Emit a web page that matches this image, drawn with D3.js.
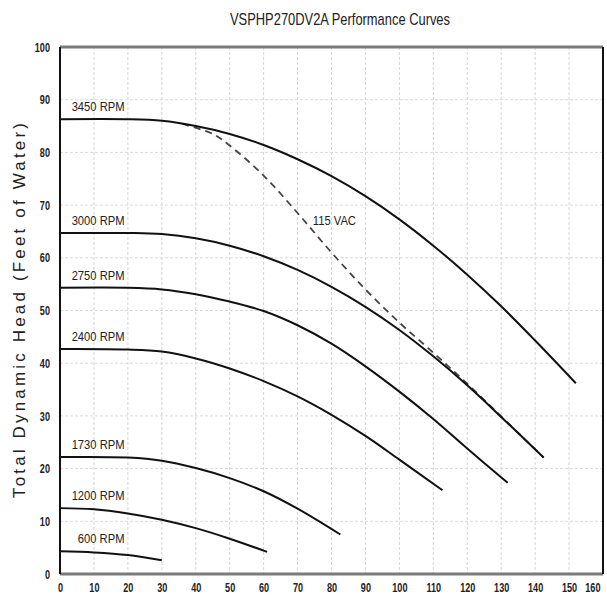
<!DOCTYPE html>
<html>
<head>
<meta charset="utf-8">
<script src="https://cdn.jsdelivr.net/npm/d3@7"></script>
<style>
  body { margin: 0; background: #fff; }
  svg { display: block; }
  text { font-family: "Liberation Sans", Arial, sans-serif; fill: #222; }
</style>
</head>
<body>
<svg id="chart" width="607" height="598"></svg>
<script>
// ---- data (flow in GPM, head in feet of water) ----
var chartTitle = 'VSPHP270DV2A Performance Curves';
var yTitle = 'Total Dynamic Head (Feet of Water)';
var xTickVals = [0, 10, 20, 30, 40, 50, 60, 70, 80, 90, 100, 110, 120, 130, 140, 150, 160];
var yTickVals = [0, 10, 20, 30, 40, 50, 60, 70, 80, 90, 100];

var rpmNames = ['3450 RPM', '3000 RPM', '2750 RPM', '2400 RPM', '1730 RPM', '1200 RPM', '600 RPM'];

var rpm3450 = [[0, 86.3], [20, 86.3], [30, 86.0], [40, 85.0], [50, 83.5], [60, 81.4], [70, 78.7],
  [80, 75.5], [90, 71.7], [100, 67.3], [110, 62.3], [120, 56.8], [130, 50.8], [140, 44.3], [152, 36.2]];
var rpm3000 = [[0, 64.7], [20, 64.7], [30, 64.5], [40, 63.7], [50, 62.3], [60, 60.3], [70, 57.7],
  [80, 54.5], [90, 50.7], [100, 46.3], [110, 41.3], [120, 35.8], [130, 29.8], [142.5, 22.1]];
var rpm2750 = [[0, 54.3], [20, 54.3], [30, 54.0], [40, 53.1], [50, 51.7], [60, 49.9], [70, 47.2],
  [80, 43.7], [90, 39.4], [100, 34.6], [110, 29.4], [120, 23.8], [131.9, 17.3]];
var rpm2400 = [[0, 42.7], [20, 42.6], [30, 42.2], [40, 40.9], [50, 39.0], [60, 36.6], [70, 33.7],
  [80, 30.2], [90, 26.2], [100, 21.7], [112.7, 15.9]];
var rpm1730 = [[0, 22.2], [20, 22.1], [30, 21.5], [40, 20.1], [50, 18.2], [60, 15.7], [70, 12.4], [82.6, 7.5]];
var rpm1200 = [[0, 12.5], [10, 12.3], [20, 11.5], [30, 10.3], [40, 8.7], [50, 6.7], [61, 4.2]];
var rpm600 = [[0, 4.3], [10, 4.1], [20, 3.6], [30, 2.6]];

// 115 VAC limit (dashed): leaves the 3450 curve and runs into the 3000 curve
var vac115 = [[36, 85.4], [45, 83.5], [50, 81.3], [60, 75.6], [70, 68.5], [80, 61.0], [90, 54.0],
  [100, 47.7], [110, 42.0], [120, 36.1], [130, 29.9], [142.5, 22.1]];

var rpmCurves = [rpm3450, rpm3000, rpm2750, rpm2400, rpm1730, rpm1200, rpm600];

// ---- layout ----
var svg = d3.select('#chart');
var margin = { top: 47, right: 4, bottom: 24, left: 60 };
var width = 607 - margin.left - margin.right;
var height = 598 - margin.top - margin.bottom;

var x = d3.scaleLinear().domain([0, 160]).range([0, width]);
var y = d3.scaleLinear().domain([0, 100]).range([height, 0]);

// squeeze text to look like the narrow font of the original
function squeeze(sel, k) {
  sel.each(function() {
    var w = this.getComputedTextLength();
    d3.select(this).attr('textLength', w * k).attr('lengthAdjust', 'spacingAndGlyphs');
  });
}

var g = svg.append('g').attr('transform', 'translate(' + margin.left + ',' + margin.top + ')');

// grid
g.append('g').selectAll('line')
  .data(xTickVals.filter(function(d) { return d > 0 && d < 160; }))
  .join('line')
  .attr('x1', x).attr('x2', x).attr('y1', 0).attr('y2', height)
  .attr('stroke', '#d4d4d4').attr('stroke-width', 1).attr('stroke-dasharray', '3,2');
g.append('g').selectAll('line')
  .data(yTickVals.filter(function(d) { return d > 0 && d < 100; }))
  .join('line')
  .attr('y1', y).attr('y2', y).attr('x1', 0).attr('x2', width)
  .attr('stroke', '#dadada').attr('stroke-width', 1).attr('stroke-dasharray', '3,2');

// frame
g.append('line').attr('x1', 0).attr('x2', width).attr('y1', 0).attr('y2', 0)
  .attr('stroke', '#7a7a7a').attr('stroke-width', 3);
g.append('line').attr('x1', 0).attr('x2', width).attr('y1', height).attr('y2', height)
  .attr('stroke', '#7a7a7a').attr('stroke-width', 3);
g.append('line').attr('x1', 0).attr('x2', 0).attr('y1', 0).attr('y2', height)
  .attr('stroke', '#111').attr('stroke-width', 2);
g.append('line').attr('x1', width).attr('x2', width).attr('y1', 0).attr('y2', height)
  .attr('stroke', '#111').attr('stroke-width', 2);

// axes
var xAxis = g.append('g').attr('transform', 'translate(0,' + height + ')')
  .call(d3.axisBottom(x).tickValues(xTickVals).tickSize(0).tickPadding(9));
var yAxis = g.append('g')
  .call(d3.axisLeft(y).tickValues(yTickVals).tickSize(0).tickPadding(10));
[xAxis, yAxis].forEach(function(a) {
  a.select('.domain').remove();
  a.selectAll('text')
    .attr('font-family', '"Liberation Sans", Arial, sans-serif')
    .attr('font-size', 13).attr('font-weight', 'bold').attr('fill', '#111')
    .call(squeeze, 0.7);
});
// last flow label sits against the right edge
xAxis.selectAll('.tick').filter(function(d) { return d === 160; })
  .select('text').attr('text-anchor', 'end').attr('x', -3);

// curves
var line = d3.line()
  .x(function(d) { return x(d[0]); })
  .y(function(d) { return y(d[1]); })
  .curve(d3.curveCatmullRom.alpha(0.5));

g.append('path').datum(vac115)
  .attr('d', line).attr('fill', 'none')
  .attr('stroke', '#444').attr('stroke-width', 1.8).attr('stroke-dasharray', '7,5');

g.append('g').selectAll('path')
  .data(rpmCurves)
  .join('path')
  .attr('d', line).attr('fill', 'none')
  .attr('stroke', '#111').attr('stroke-width', 2);

// curve labels
g.append('g').selectAll('text')
  .data(rpmCurves)
  .join('text')
  .attr('x', x(19))
  .attr('y', function(d) { return y(d[0][1]) - 8; })
  .attr('text-anchor', 'end')
  .attr('font-size', 13)
  .text(function(d, i) { return rpmNames[i]; })
  .call(squeeze, 0.86);

g.append('text')
  .attr('x', x(74.5)).attr('y', y(66.2))
  .attr('font-size', 13)
  .text('115 VAC')
  .call(squeeze, 0.86);

// titles
svg.append('text')
  .attr('x', 340).attr('y', 25)
  .attr('text-anchor', 'middle')
  .attr('font-size', 17)
  .attr('textLength', 220).attr('lengthAdjust', 'spacingAndGlyphs')
  .text(chartTitle);

svg.append('text')
  .attr('transform', 'translate(25,' + (margin.top + height / 2) + ') rotate(-90)')
  .attr('text-anchor', 'middle')
  .attr('font-size', 17)
  .attr('textLength', 375).attr('lengthAdjust', 'spacing')
  .text(yTitle);
</script>
</body>
</html>
